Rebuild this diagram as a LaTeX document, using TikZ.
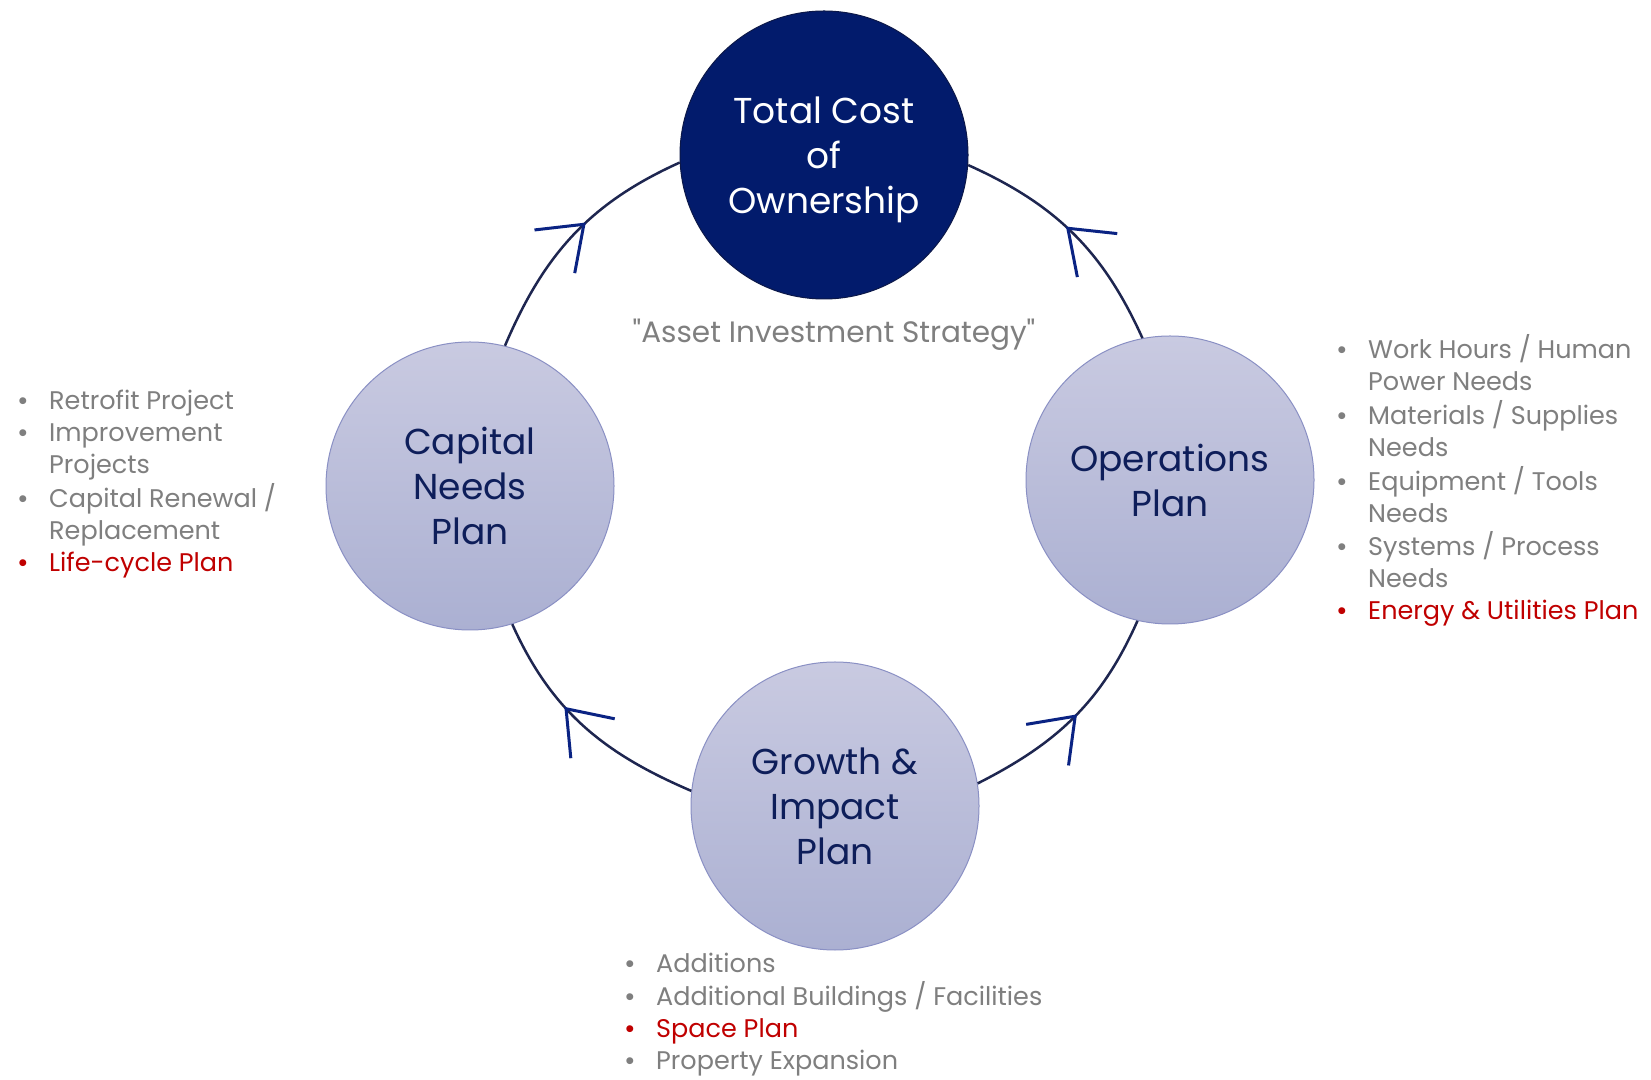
\documentclass[tikz,border=0pt]{standalone}
\usepackage{fontspec}
\setmainfont{Poppins}
\usetikzlibrary{arrows.meta,decorations.markings,positioning}

\definecolor{tcofill}{RGB}{2,27,108}
\definecolor{tcoedge}{RGB}{12,24,72}
\definecolor{ringline}{RGB}{30,38,80}
\definecolor{tipblue}{RGB}{10,35,131}
\definecolor{plantext}{RGB}{14,30,90}
\definecolor{lavtop}{RGB}{201,202,225}
\definecolor{lavbot}{RGB}{171,176,210}
\definecolor{lavedge}{RGB}{138,144,196}
\definecolor{listgrey}{RGB}{127,127,127}
\definecolor{listred}{RGB}{192,0,0}

\newcommand\bul{\makebox[32pt][l]{\fontsize{28}{28}\selectfont\raisebox{-1pt}[0pt][0pt]{•}}}

\tikzset{
  plan/.style={circle, minimum size=288pt, inner sep=0pt, draw=lavedge, line width=1pt,
    top color=lavtop, bottom color=lavbot, text=plantext, align=center,
    font=\fontsize{36}{45}\selectfont},
  tcobox/.style={circle, minimum size=288pt, inner sep=0pt, draw=tcoedge, line width=1pt,
    fill=tcofill, text=white, align=center, font=\fontsize{36}{45}\selectfont},
  flow/.style={draw=ringline, line width=2.5pt, postaction={decorate},
    decoration={markings, mark=at position #1 with
      {\arrow{Straight Barb[length=40pt,width=59pt,line width=3pt,color=tipblue]}}}},
  bullets/.style={anchor=base west, inner sep=0pt, text=listgrey,
    font=\fontsize{25.5}{32}\selectfont}
}

\begin{document}
\begin{tikzpicture}[x=1pt, y=1pt]
    \fill[white] (0,0) rectangle (1651,1079);
    \useasboundingbox (0,0) rectangle (1651,1079);

    % the four plans
    \node[tcobox, text depth=0pt] (tco) at (824,924) {Total Cost\\of\\Ownership};
    \node[plan] (cap) at (470,593) {Capital\\Needs\\Plan};
    \node[plan] (ops) at (1170,599) {Operations\\Plan};
    \node[plan] (grow) at (835,273) {Growth \&\\Impact\\Plan};

    \node[anchor=base, text=listgrey,
        font=\fontsize{29.5}{35}\selectfont\addfontfeatures{Ligatures=TeXOff}] (strategy)
        at (834,736) {"Asset Investment Strategy"};

    % ring
    \draw[flow=0.57] (cap.76.7) to[out=66.9, in=204.3] (tco.183.3);
    \draw[flow=0.54] (ops.101) to[out=114.3, in=335.8] (tco.356.7);
    \draw[flow=0.61] (grow.174) to[out=156.8, in=294.2] (cap.287);
    \draw[flow=0.52] (grow.9) to[out=26.9, in=246.1] (ops.257.7);

    % lists
    \node[bullets] (caplist) at (17,669) {\begin{tabular}[t]{@{}l@{}l@{}}
        \bul & Retrofit Project\\
        \bul & Improvement\\
             & Projects\\
        \bul & Capital Renewal /\\
             & Replacement\\
        \color{listred}\bul & \color{listred}Life-cycle Plan
    \end{tabular}};
    \node[bullets] (opslist) at (1336,720) {\begin{tabular}[t]{@{}l@{}l@{}}
        \bul & Work Hours / Human\\
             & Power Needs\\
        \bul & Materials / Supplies\\
             & Needs\\
        \bul & Equipment / Tools\\
             & Needs\\
        \bul & Systems / Process\\
             & Needs\\
        \color{listred}\bul & \color{listred}Energy \& Utilities Plan
    \end{tabular}};
    \node[bullets] (growlist) at (624,107) {\begin{tabular}[t]{@{}l@{}l@{}}
        \bul & Additions\\
        \bul & Additional Buildings / Facilities\\
        \color{listred}\bul & \color{listred}Space Plan\\
        \bul & Property Expansion
    \end{tabular}};
\end{tikzpicture}
\end{document}
